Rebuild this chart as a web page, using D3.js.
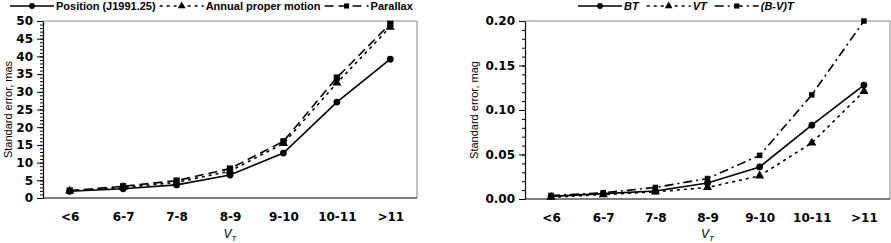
<!DOCTYPE html>
<html lang="en">
<head>
  <meta charset="UTF-8">
  <title>Standard errors vs VT</title>
  <script src="https://d3js.org/d3.v7.min.js"></script>
  <style>
    body { margin: 0; background: #fff; font-family: "Liberation Sans", Arial, sans-serif; }
    .tick text { font-family: "DejaVu Sans", sans-serif; font-weight: bold; font-size: 12px; fill: #000; }
    .legend text { font-size: 11px; font-weight: bold; }
    .axis-title { font-size: 11px; }
  </style>
</head>
<body>
  <svg id="chart" width="891" height="243"></svg>
  <script>
    const categories = ["<6", "6-7", "7-8", "8-9", "9-10", "10-11", ">11"];

    // left panel: astrometry, mas
    const position = [1.9, 2.6, 3.7, 6.5, 12.7, 27.1, 39.2];
    const properMotion = [2.0, 3.0, 4.4, 7.6, 15.4, 32.5, 48.3];
    const parallax = [2.1, 3.3, 4.9, 8.3, 16.0, 34.0, 49.2];

    // right panel: photometry, mag
    const bt = [0.003, 0.006, 0.009, 0.018, 0.036, 0.083, 0.128];
    const vt = [0.002, 0.005, 0.008, 0.013, 0.026, 0.063, 0.121];
    const bvt = [0.004, 0.007, 0.013, 0.023, 0.049, 0.117, 0.200];

    const svg = d3.select("#chart");

    const styles = {
      solid: { dash: null, marker: d3.symbolCircle },
      short: { dash: "3,4", marker: d3.symbolTriangle },
      long: { dash: "9,5", marker: d3.symbolSquare },
      dashdot: { dash: "9,4,2,4", marker: d3.symbolSquare }
    };

    function panel(opt) {
      const x = d3.scalePoint().domain(categories).range([opt.x0, opt.x1]).padding(0.5);
      const y = d3.scaleLinear().domain([0, opt.max]).range([opt.y0, opt.y1]);

      // frame (top/right grey)
      svg.append("path")
        .attr("d", `M${opt.x0},${opt.y1}H${opt.x1}V${opt.y0}`)
        .attr("fill", "none").attr("stroke", "#888").attr("stroke-width", 1);

      // minor ticks
      svg.append("g")
        .attr("transform", `translate(${opt.x0},0)`)
        .call(d3.axisLeft(y).tickValues(d3.range(0, opt.max + opt.minor / 2, opt.minor)).tickSize(3).tickFormat(""))
        .call(g => g.select(".domain").remove())
        .selectAll("line").attr("stroke", "#000");

      const ya = svg.append("g")
        .attr("transform", `translate(${opt.x0},0)`)
        .call(d3.axisLeft(y).tickValues(d3.range(0, opt.max + opt.major / 2, opt.major)).tickSize(6).tickPadding(4).tickFormat(opt.fmt).tickSizeOuter(0));
      ya.select(".domain").attr("stroke", "#000").attr("stroke-width", 1.2);

      const xa = svg.append("g")
        .attr("transform", `translate(0,${opt.y0})`)
        .call(d3.axisBottom(x).tickSize(0).tickPadding(14).tickSizeOuter(0));
      xa.select(".domain").attr("d", `M${opt.x0},0H${opt.x1}`).attr("stroke", "#000").attr("stroke-width", 1.2);

      svg.append("text").attr("class", "axis-title")
        .attr("transform", `translate(${opt.x0 - opt.titleOff},${(opt.y0 + opt.y1) / 2}) rotate(-90)`)
        .attr("text-anchor", "middle").text(opt.ytitle);

      const xt = svg.append("text").attr("class", "axis-title")
        .attr("x", (opt.x0 + opt.x1) / 2).attr("y", 238)
        .attr("text-anchor", "middle").style("font-style", "italic").style("font-size", "12px");
      xt.append("tspan").text("V");
      xt.append("tspan").attr("dy", 3).style("font-size", "8px").text("T");

      const line = d3.line().x((d, i) => x(categories[i])).y(d => y(d));

      opt.series.forEach(s => {
        const st = styles[s.style];
        svg.append("path").datum(s.values)
          .attr("d", line).attr("fill", "none").attr("stroke", "#000")
          .attr("stroke-width", 1.6).attr("stroke-dasharray", st.dash);
        svg.append("g").selectAll("path").data(s.values).join("path")
          .attr("transform", (d, i) => `translate(${x(categories[i])},${y(d)})`)
          .attr("d", d3.symbol().type(st.marker).size(s.msize || 36))
          .attr("fill", "#000");
      });

      // legend
      const lg = svg.append("g").attr("class", "legend");
      let cx = opt.legendX;
      opt.series.forEach(s => {
        const st = styles[s.style];
        lg.append("line").attr("x1", cx).attr("x2", cx + 44).attr("y1", 6).attr("y2", 6)
          .attr("stroke", "#000").attr("stroke-width", 1.4).attr("stroke-dasharray", st.dash);
        lg.append("path").attr("transform", `translate(${cx + 22},6)`)
          .attr("d", d3.symbol().type(st.marker).size(26)).attr("fill", "#000");
        const t = lg.append("text").attr("x", cx + 46).attr("y", 10)
          .style("font-style", s.italic ? "italic" : null).text(s.name);
        cx += 46 + t.node().getComputedTextLength() + opt.legendGap;
      });
    }

    panel({
      x0: 43, x1: 417, y0: 198, y1: 21, max: 50, major: 5, minor: 1,
      fmt: d3.format("d"), ytitle: "Standard error, mas", legendX: 10, legendGap: 4, titleOff: 31,
      series: [
        { name: "Position (J1991.25)", values: position, style: "solid" },
        { name: "Annual proper motion", values: properMotion, style: "short" },
        { name: "Parallax", values: parallax, style: "long", msize: 40 }
      ]
    });

    panel({
      x0: 525, x1: 890, y0: 199, y1: 21, max: 0.2, major: 0.05, minor: 0.01,
      fmt: d3.format(".2f"), ytitle: "Standard error, mag", legendX: 578, legendGap: 8, titleOff: 47,
      series: [
        { name: "BT", values: bt, style: "solid", italic: true },
        { name: "VT", values: vt, style: "short", italic: true },
        { name: "(B-V)T", values: bvt, style: "dashdot", italic: true, msize: 30 }
      ]
    });
  </script>
</body>
</html>
